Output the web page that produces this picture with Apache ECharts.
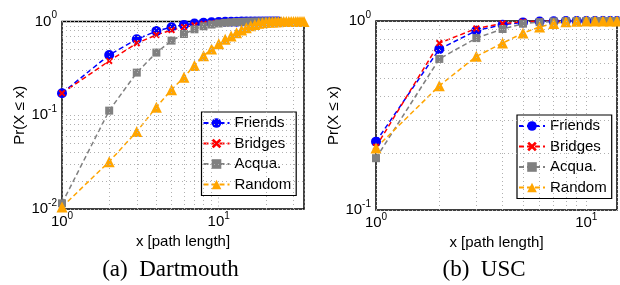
<!DOCTYPE html>
<html>
<head>
<meta charset="utf-8">
<script src="https://cdn.jsdelivr.net/npm/echarts@6/dist/echarts.min.js"></script>
<style>
  html, body { margin: 0; padding: 0; background: #fff; }
  #chart { width: 620px; height: 285px; }
</style>
</head>
<body>
<div id="chart"></div>
<script>
// Dartmouth: x = path length
const xDart = [1, 2, 3, 4, 5, 6, 7, 8, 9, 10, 11, 12, 13, 14, 15, 16, 17, 18, 19, 20, 21, 22, 23, 24]
const xDartRandom = [1, 2, 3, 4, 5, 6, 7, 8, 9, 10, 11, 12, 13, 14, 15, 16, 17, 18, 19, 20, 21, 22, 23, 24, 25, 26, 27, 28, 29, 30, 31, 32, 33, 34, 35]
const dartFriends = [0.172, 0.44, 0.646, 0.79, 0.87, 0.92, 0.95, 0.968, 0.98, 0.987, 0.991, 0.994, 0.996, 0.997, 0.998, 0.998, 0.999, 0.999, 0.999, 1, 1, 1, 1, 1]
const dartBridges = [0.172, 0.38, 0.586, 0.72, 0.81, 0.87, 0.91, 0.94, 0.958, 0.972, 0.981, 0.987, 0.991, 0.994, 0.996, 0.997, 0.998, 0.999, 0.999, 1, 1, 1, 1, 1]
const dartAcqua = [0.0115, 0.112, 0.285, 0.466, 0.625, 0.736, 0.826, 0.89, 0.928, 0.952, 0.968, 0.979, 0.986, 0.991, 0.994, 0.996, 0.997, 0.998, 0.999, 0.999, 1, 1, 1, 1]
const dartRandom = [0.0105, 0.032, 0.067, 0.122, 0.187, 0.255, 0.339, 0.43, 0.51, 0.58, 0.646, 0.70, 0.76, 0.81, 0.86, 0.90, 0.93, 0.955, 0.97, 0.98, 0.986, 0.99, 0.993, 0.995, 0.997, 0.998, 0.999, 1, 1, 1, 1, 1, 1, 1, 1]

// USC
const xUsc = [1, 2, 3, 4, 5, 6, 7, 8, 9, 10, 11, 12, 13, 14]
const uscFriends = [0.23, 0.71, 0.889, 0.956, 0.983, 0.993, 0.997, 0.999, 1, 1, 1, 1, 1, 1]
const uscBridges = [0.216, 0.764, 0.913, 0.97, 0.99, 0.996, 0.999, 1, 1, 1, 1, 1, 1, 1]
const uscAcqua = [0.188, 0.63, 0.812, 0.907, 0.968, 0.986, 0.994, 0.998, 1, 1, 1, 1, 1, 1]
const uscRandom = [0.213, 0.454, 0.65, 0.764, 0.863, 0.93, 0.97, 0.99, 0.996, 1, 1, 1, 1, 1]

// minor grid positions (log axes)
const xMinorDart = [2, 3, 4, 5, 6, 7, 8, 9, 20, 30]
const yMinorDart = [0.02, 0.03, 0.04, 0.05, 0.06, 0.07, 0.08, 0.09, 0.2, 0.3, 0.4, 0.5, 0.6, 0.7, 0.8, 0.9]
const xMinorUsc = [2, 3, 4, 5, 6, 7, 8, 9]
const yMinorUsc = [0.2, 0.3, 0.4, 0.5, 0.6, 0.7, 0.8, 0.9]

const FONT = 'Liberation Sans'
const xMark = 'path://M2,0 L5,3 L8,0 L10,2 L7,5 L10,8 L8,10 L5,7 L2,10 L0,8 L3,5 L0,2 Z'

const styles = {
  Friends: { color: '#0000ff', symbol: 'circle', size: 10 },
  Bridges: { color: '#ff0000', symbol: xMark, size: 7 },
  'Acqua.': { color: '#808080', symbol: 'rect', size: 8 },
  Random: { color: '#ffa500', symbol: 'triangle', size: 11 }
}

function powLabel (value) {
  const l = Math.log10(value)
  const e = Math.round(l)
  if (Math.abs(l - e) > 1e-6) return ''
  return '{b|10}{s|' + e + '}'
}

const labelRich = {
  b: { fontSize: 15, lineHeight: 22, fontFamily: FONT, color: '#000' },
  s: { fontSize: 10, lineHeight: 8, verticalAlign: 'top', fontFamily: FONT, color: '#000' }
}

function makeSeries (name, xs, ys, idx) {
  const st = styles[name]
  return {
    name: name,
    type: 'line',
    xAxisIndex: idx,
    yAxisIndex: idx,
    data: xs.map((x, i) => [x, ys[i]]),
    symbol: st.symbol,
    symbolSize: st.size,
    clip: false,
    lineStyle: { color: st.color, width: 1.5, type: [5, 3] },
    itemStyle: { color: st.color, borderWidth: 0 },
    emphasis: { disabled: true }
  }
}

function gridLines (idx, xs, ys) {
  return {
    type: 'line',
    xAxisIndex: idx,
    yAxisIndex: idx,
    data: [],
    silent: true,
    z: 0,
    markLine: {
      silent: true,
      symbol: 'none',
      label: { show: false },
      animation: false,
      lineStyle: { color: '#b0b0b0', width: 1, type: [1, 3] },
      data: xs.map(v => ({ xAxis: v })).concat(ys.map(v => ({ yAxis: v })))
    }
  }
}

function xAxisCfg (idx, max) {
  return {
    type: 'log',
    gridIndex: idx,
    min: 1,
    max: max,
    logBase: 10,
    name: 'x [path length]',
    nameLocation: 'middle',
    nameGap: 23,
    nameTextStyle: { fontSize: 15, fontFamily: FONT, color: '#000' },
    axisLine: { show: false },
    axisTick: { show: false },
    axisLabel: { formatter: powLabel, rich: labelRich, margin: 2, showMaxLabel: false },
    splitLine: { show: true, lineStyle: { color: '#b0b0b0', width: 1, type: [1, 3] } }
  }
}

function yAxisCfg (idx, min) {
  return {
    type: 'log',
    gridIndex: idx,
    min: min,
    max: 1,
    logBase: 10,
    name: 'Pr(X ≤ x)',
    nameLocation: 'middle',
    nameGap: 35,
    nameTextStyle: { fontSize: 15, fontFamily: FONT, color: '#000' },
    axisLine: { show: false },
    axisTick: { show: false },
    axisLabel: { formatter: powLabel, rich: labelRich, margin: 5 },
    splitLine: { show: true, lineStyle: { color: '#b0b0b0', width: 1, type: [1, 3] } }
  }
}

function legendCfg (left, top) {
  return {
    left: left,
    top: top,
    orient: 'vertical',
    data: ['Friends', 'Bridges', 'Acqua.', 'Random'],
    backgroundColor: '#fff',
    borderColor: '#000',
    borderWidth: 1.2,
    borderRadius: 0,
    padding: [3, 5, 3, 1],
    itemWidth: 26,
    itemHeight: 12,
    itemGap: 4.5,
    selectedMode: false,
    itemStyle: { borderWidth: 0 },
    textStyle: { fontSize: 15, fontFamily: FONT, color: '#000', lineHeight: 16 }
  }
}

const chart = echarts.init(document.getElementById('chart'))
chart.setOption({
  animation: false,
  backgroundColor: '#fff',
  grid: [
    { left: 62, top: 21.5, width: 242, height: 187.5, show: true, borderColor: '#000', borderWidth: 1.5, backgroundColor: 'transparent' },
    { left: 376, top: 21, width: 241, height: 189, show: true, borderColor: '#000', borderWidth: 1.5, backgroundColor: 'transparent' }
  ],
  xAxis: [xAxisCfg(0, 35), xAxisCfg(1, 14)],
  yAxis: [yAxisCfg(0, 0.01), yAxisCfg(1, 0.1)],
  legend: [legendCfg(201.5, 112), legendCfg(517, 115)],
  graphic: [
    { type: 'text', style: { text: '(a)  Dartmouth', x: 170.5, y: 270, align: 'center', verticalAlign: 'middle', font: '23px "Liberation Serif"', fill: '#000' } },
    { type: 'text', style: { text: '(b)  USC', x: 484, y: 270, align: 'center', verticalAlign: 'middle', font: '23px "Liberation Serif"', fill: '#000' } }
  ],
  series: [
    gridLines(0, xMinorDart, yMinorDart),
    gridLines(1, xMinorUsc, yMinorUsc),
    makeSeries('Friends', xDart, dartFriends, 0),
    makeSeries('Bridges', xDart, dartBridges, 0),
    makeSeries('Acqua.', xDart, dartAcqua, 0),
    makeSeries('Random', xDartRandom, dartRandom, 0),
    makeSeries('Friends', xUsc, uscFriends, 1),
    makeSeries('Bridges', xUsc, uscBridges, 1),
    makeSeries('Acqua.', xUsc, uscAcqua, 1),
    makeSeries('Random', xUsc, uscRandom, 1)
  ]
})
</script>
</body>
</html>
